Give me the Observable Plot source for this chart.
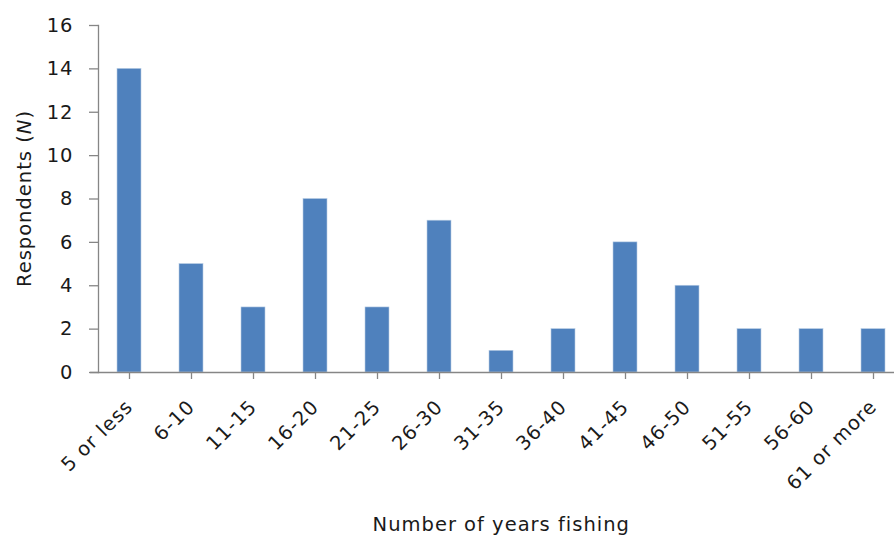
<!DOCTYPE html>
<html>
<head>
<meta charset="utf-8">
<script src="https://cdn.jsdelivr.net/npm/d3@7"></script>
<script src="https://cdn.jsdelivr.net/npm/@observablehq/plot@0.6"></script>
<style>
  html, body { margin: 0; padding: 0; background: #fff; }
  #chart { width: 894px; height: 536px; overflow: hidden; }
  svg { display: block; }
  #chart svg text { letter-spacing: 1px; }
</style>
</head>
<body>
<div id="chart"></div>
<script>
const categories = ["5 or less","6-10","11-15","16-20","21-25","26-30","31-35","36-40","41-45","46-50","51-55","56-60","61 or more"];
const respondents = [14, 5, 3, 8, 3, 7, 1, 2, 6, 4, 2, 2, 2];
const yTicks = [0, 2, 4, 6, 8, 10, 12, 14, 16];
const xLabel = "Number of years fishing";
const yLabelMain = "Respondents (";
const yLabelItalic = "N";
const yLabelEnd = ")";

const data = categories.map((c, i) => ({category: c, value: respondents[i]}));

const FONT = "DejaVu Sans, sans-serif";
const FS = 19.5;
const axisColor = "#868686";
const barColor = "#4F81BD";
const textColor = "#1a1a1a";

const chart = Plot.plot({
  width: 894,
  height: 536,
  marginTop: 25,
  marginBottom: 164,
  marginLeft: 98,
  marginRight: -8,
  style: {fontFamily: FONT, fontSize: FS + "px", color: textColor, background: "#fff", overflow: "visible"},
  x: {domain: categories, range: [98, 904.5], paddingInner: 0.605, paddingOuter: 0.3025, label: null},
  y: {domain: [0, 16], label: null},
  marks: [
    Plot.barY(data, {x: "category", y: "value", fill: barColor, stroke: "#b9cde5", strokeWidth: 0.6}),
    Plot.ruleY([0], {stroke: axisColor, strokeWidth: 1.3, dx: -8}),
    Plot.frame({anchor: "left", stroke: axisColor, strokeWidth: 1.3}),
    Plot.axisY({ticks: yTicks, tickSize: 9, tickPadding: 16, stroke: axisColor, strokeWidth: 1.3, fill: textColor, fontSize: FS, label: null}),
    // x tick marks only
    Plot.axisX({tickSize: 7, tickFormat: () => "", stroke: axisColor, strokeWidth: 1.3, label: null}),
    // x tick labels only
    Plot.axisX({tickSize: 0, tickRotate: -45, tickPadding: 4, dy: 27, dx: 0, fill: textColor, fontSize: FS, label: null})
  ]
});

document.getElementById("chart").appendChild(chart);

const svg = d3.select(chart);
const yScale = chart.scale("y");
const xScale = chart.scale("x");
const yMid = (yScale.apply(0) + yScale.apply(16)) / 2;
const xMid = (xScale.range[0] + xScale.range[1]) / 2;

const yl = svg.append("text")
  .attr("transform", `translate(24,${yMid}) rotate(-90)`)
  .attr("text-anchor", "middle")
  .attr("dominant-baseline", "central")
  .attr("font-family", FONT)
  .attr("font-size", FS)
  .attr("fill", textColor);
yl.append("tspan").text(yLabelMain);
yl.append("tspan").attr("font-style", "italic").text(yLabelItalic);
yl.append("tspan").text(yLabelEnd);

svg.append("text")
  .attr("x", xMid)
  .attr("y", 524)
  .attr("text-anchor", "middle")
  .attr("dominant-baseline", "central")
  .attr("font-family", FONT)
  .attr("font-size", FS)
  .attr("fill", textColor)
  .text(xLabel);
</script>
</body>
</html>
